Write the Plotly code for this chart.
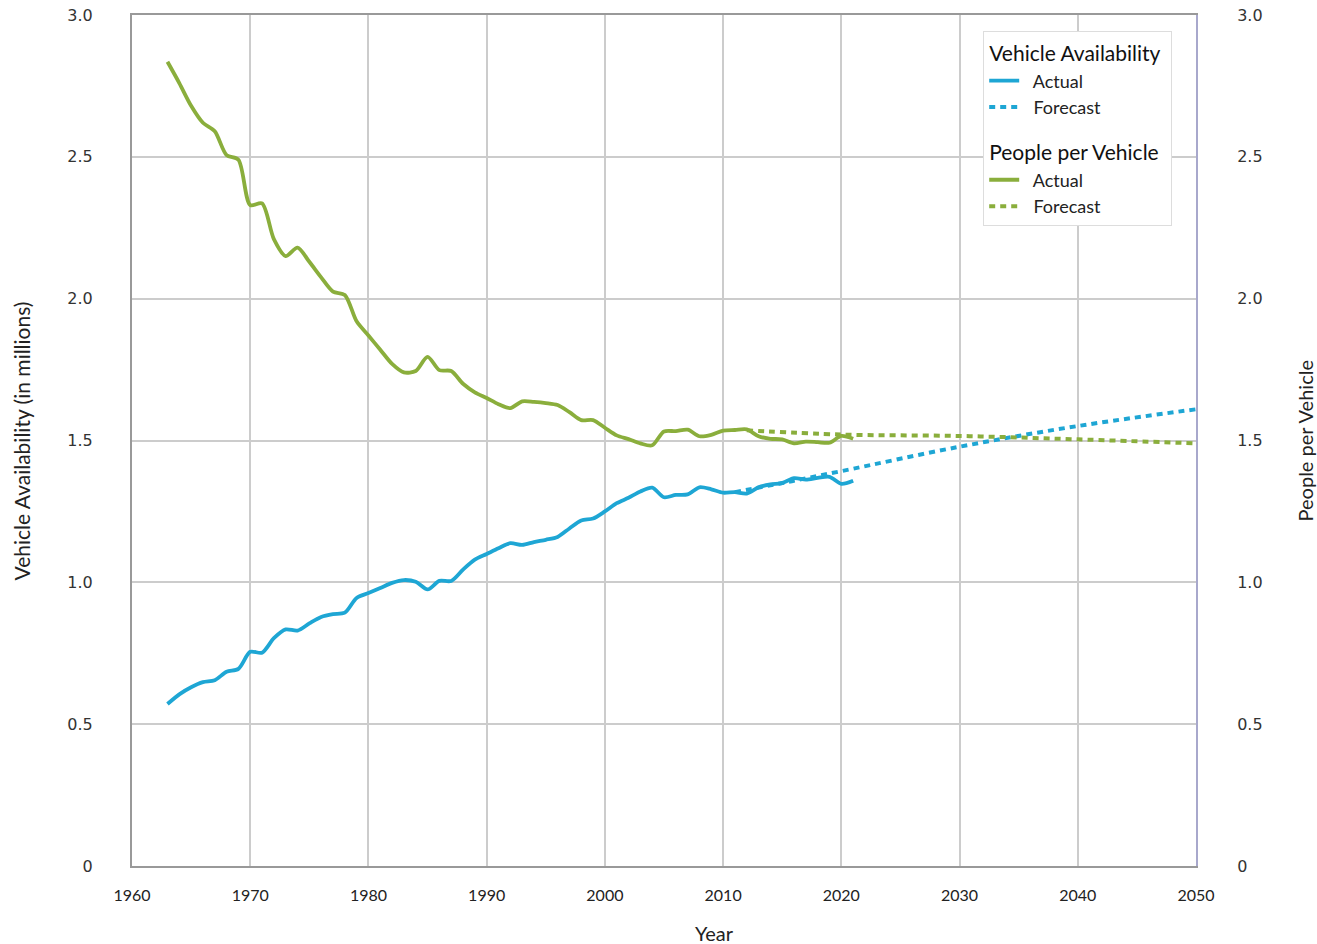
import plotly.graph_objects as go

years = list(range(1963, 2022))
people_per_vehicle = [
    2.835, 2.76, 2.68, 2.62, 2.59, 2.506, 2.49, 2.33, 2.336, 2.21,
    2.15, 2.18, 2.13, 2.075, 2.025, 2.013, 1.92, 1.87, 1.82, 1.77,
    1.74, 1.745, 1.795, 1.748, 1.745, 1.70, 1.67, 1.65, 1.628, 1.614,
    1.638, 1.636, 1.632, 1.625, 1.60, 1.572, 1.572, 1.545, 1.518, 1.505,
    1.49, 1.483, 1.532, 1.533, 1.538, 1.515, 1.52, 1.535, 1.537, 1.539,
    1.515, 1.506, 1.504, 1.49, 1.496, 1.494, 1.492, 1.516, 1.506,
]
vehicle_availability = [
    0.571, 0.605, 0.630, 0.648, 0.655, 0.685, 0.695, 0.755, 0.752, 0.803,
    0.834, 0.830, 0.855, 0.878, 0.888, 0.893, 0.945, 0.962, 0.980, 0.998,
    1.008, 1.002, 0.975, 1.005, 1.005, 1.045, 1.080, 1.100, 1.120, 1.138,
    1.132, 1.142, 1.150, 1.160, 1.190, 1.218, 1.225, 1.250, 1.279, 1.298,
    1.320, 1.334, 1.300, 1.308, 1.310, 1.335, 1.328, 1.316, 1.318, 1.313,
    1.335, 1.345, 1.350, 1.367, 1.362, 1.368, 1.372, 1.347, 1.358,
]
va_forecast_years = [2011, 2015, 2020, 2030, 2040, 2050]
va_forecast = [1.318, 1.350, 1.392, 1.478, 1.551, 1.610]
ppv_forecast_years = [2012, 2020, 2030, 2040, 2050]
ppv_forecast = [1.536, 1.521, 1.516, 1.504, 1.490]

y_tickvals = [0, 0.5, 1.0, 1.5, 2.0, 2.5, 3.0]
y_ticktext = ["0", "0.5", "1.0", "1.5", "2.0", "2.5", "3.0"]
x_tickvals = list(range(1960, 2051, 10))

x_title = "Year"
y_title_left = "Vehicle Availability (in millions)"
y_title_right = "People per Vehicle"

BLUE = "#1ea6d4"
GREEN = "#8aae3c"
FONT = "Lato"

fig = go.Figure()
fig.add_trace(go.Scatter(
    x=years, y=vehicle_availability, mode="lines", name="&nbsp;&nbsp;Actual",
    line=dict(color=BLUE, width=3.8, shape="spline", smoothing=0.8),
    legendgroup="va", legendgrouptitle_text="Vehicle Availability",
))
fig.add_trace(go.Scatter(
    x=va_forecast_years, y=va_forecast, mode="lines", name="&nbsp;&nbsp;Forecast",
    line=dict(color=BLUE, width=4, dash="6px,5px", shape="spline"),
    legendgroup="va",
))
fig.add_trace(go.Scatter(
    x=years, y=people_per_vehicle, mode="lines", name="&nbsp;&nbsp;Actual", yaxis="y2",
    line=dict(color=GREEN, width=3.8, shape="spline", smoothing=0.8),
    legendgroup="ppv", legendgrouptitle_text="People per Vehicle",
))
fig.add_trace(go.Scatter(
    x=ppv_forecast_years, y=ppv_forecast, mode="lines", name="&nbsp;&nbsp;Forecast", yaxis="y2",
    line=dict(color=GREEN, width=4, dash="6px,5px", shape="spline"),
    legendgroup="ppv",
))

fig.update_layout(
    width=1317, height=944,
    margin=dict(l=132, r=121, t=15, b=78),
    paper_bgcolor="white", plot_bgcolor="white",
    font=dict(family=FONT, color="#222"),
    xaxis=dict(
        range=[1960, 2050], tickvals=x_tickvals, automargin=False,
        showgrid=True, gridcolor="#cccccc", gridwidth=1.5,
        showline=True, linecolor="#999999", linewidth=2, mirror=True,
        ticks="outside", ticklen=14, tickcolor="rgba(0,0,0,0)",
        tickfont=dict(size=16, family=FONT, color="#222"),
        ticklabeloverflow="allow", zeroline=False,
    ),
    yaxis=dict(
        range=[0, 3], tickvals=y_tickvals, ticktext=y_ticktext, automargin=False,
        showgrid=True, gridcolor="#cccccc", gridwidth=1.5,
        showline=True, linecolor="#999999", linewidth=2,
        ticks="outside", ticklen=34, tickcolor="rgba(0,0,0,0)",
        tickfont=dict(size=16, family="DejaVu Sans", color="#333"),
        ticklabeloverflow="allow", zeroline=False,
    ),
    yaxis2=dict(
        range=[0, 3], tickvals=y_tickvals, ticktext=y_ticktext, automargin=False,
        overlaying="y", side="right", showgrid=False,
        showline=True, linecolor="#a8a8cc", linewidth=2,
        ticks="outside", ticklen=36, tickcolor="rgba(0,0,0,0)",
        tickfont=dict(size=16, family="DejaVu Sans", color="#333"),
        ticklabeloverflow="allow", zeroline=False,
    ),
    legend=dict(
        x=0.80, y=0.981, xanchor="left", yanchor="top",
        bgcolor="white", bordercolor="#dddddd", borderwidth=1,
        font=dict(size=18, family=FONT, color="#222"),
        grouptitlefont=dict(size=21, family=FONT, color="#111"),
        tracegroupgap=16, itemwidth=30,
    ),
    annotations=[
        dict(text=x_title, xref="paper", yref="paper", x=0.547, y=-0.0787,
             xanchor="center", yanchor="middle", showarrow=False,
             font=dict(size=20, family=FONT, color="#222")),
        dict(text=y_title_left, xref="paper", yref="paper", x=-0.1034, y=0.5,
             xanchor="center", yanchor="middle", showarrow=False, textangle=-90,
             font=dict(size=21, family=FONT, color="#222")),
        dict(text=y_title_right, xref="paper", yref="paper", x=1.1024, y=0.5,
             xanchor="center", yanchor="middle", showarrow=False, textangle=-90,
             font=dict(size=20, family=FONT, color="#222")),
    ],
)

fig.write_html(
    "out.html",
    config={"displayModeBar": False},
    post_script="document.body.style.margin='0';document.body.style.overflow='hidden';",
)
